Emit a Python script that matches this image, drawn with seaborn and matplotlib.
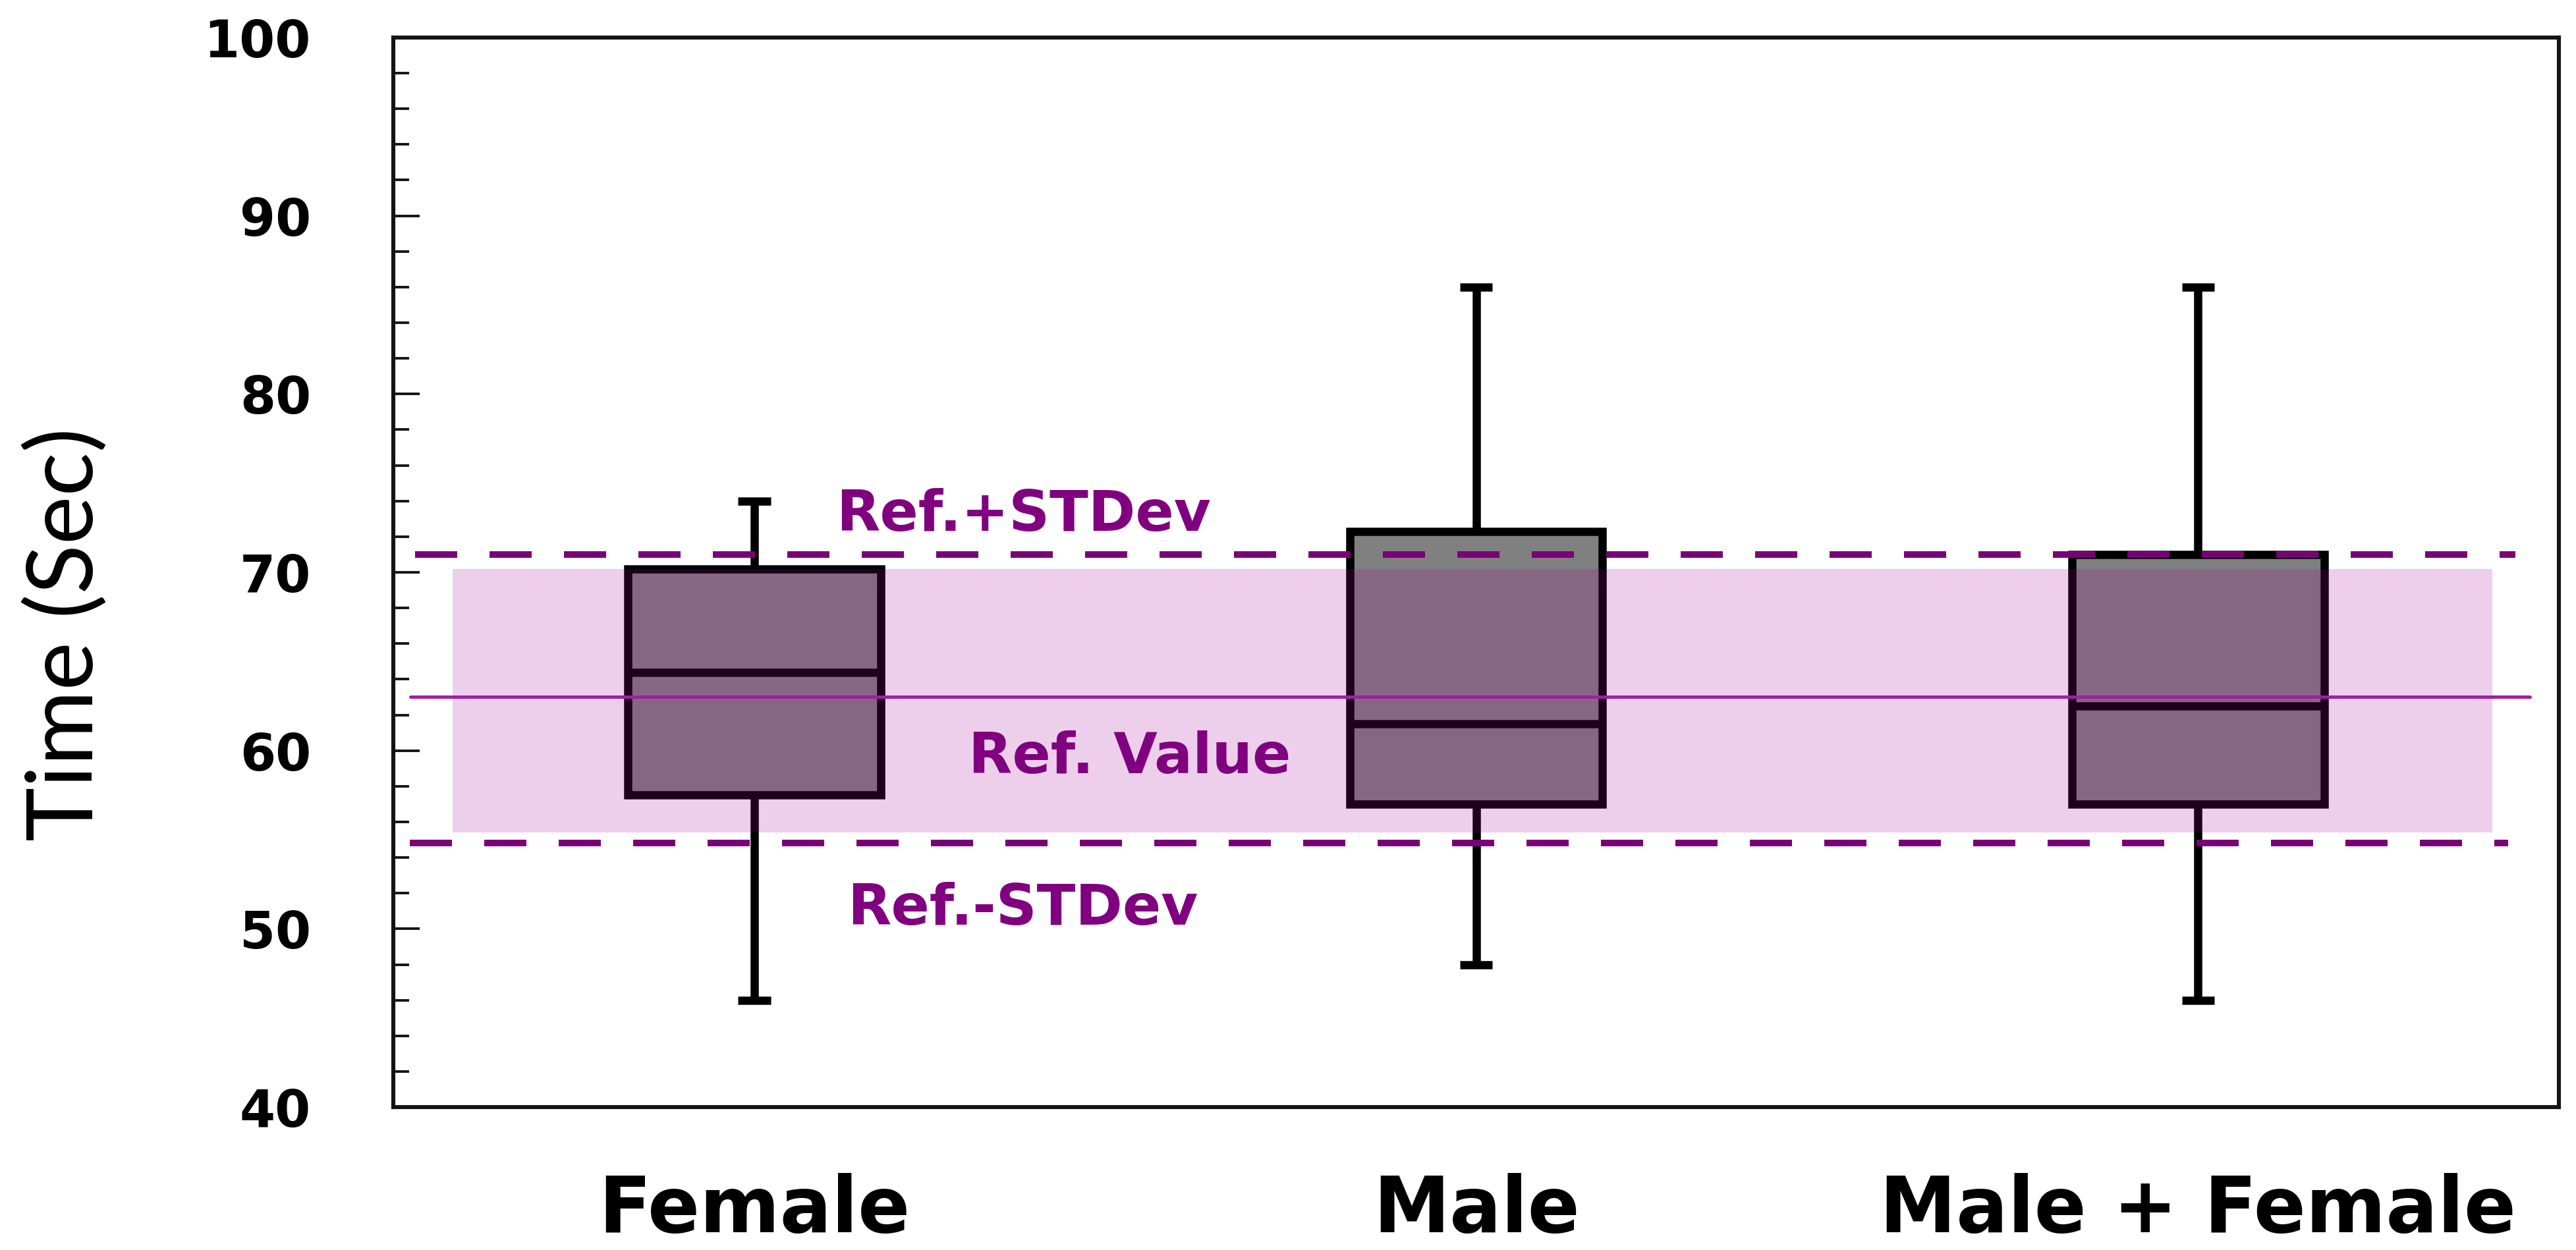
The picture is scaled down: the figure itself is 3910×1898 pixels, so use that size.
import numpy as np
import pandas as pd
import matplotlib
matplotlib.use("Agg")
import matplotlib.pyplot as plt
from matplotlib.ticker import MultipleLocator
import seaborn as sns

# ---- data ----
groups = ["Female", "Male", "Male + Female"]
whisker_low = [46.0, 48.0, 46.0]
q1 = [57.5, 57.0, 57.0]
median = [64.4, 61.5, 62.5]
q3 = [70.2, 72.3, 71.0]
whisker_high = [74.0, 86.0, 86.0]

ref_value = 63.0
ref_plus_sd = 71.0
ref_minus_sd = 54.8
band_low = 55.4
band_high = 70.2

ref_labels = ["Ref.+STDev", "Ref. Value", "Ref.-STDev"]
ref_label_y = [73.2, 59.6, 51.1]
ref_label_x = [0.373, 0.52, 0.372]

yticks = [40, 50, 60, 70, 80, 90, 100]
ylabel = "Time (Sec)"

# five-number summary per group -> long table for seaborn
rows = []
for g, a, b, c, d, e in zip(groups, whisker_low, q1, median, q3, whisker_high):
    for v in (a, b, c, d, e):
        rows.append({"group": g, "time": v})
df = pd.DataFrame(rows)

sns.set_style("white")
plt.rcParams["font.family"] = ["DejaVu Sans"]
plt.rcParams["text.color"] = "black"
plt.rcParams["axes.labelcolor"] = "black"
plt.rcParams["xtick.color"] = "black"
plt.rcParams["ytick.color"] = "black"

fig = plt.figure(figsize=(19.55, 9.49), dpi=200)
ax = fig.add_axes([0.1527, 0.1143, 0.8407, 0.8557])

box_w = 0.35
sns.boxplot(data=df, x="group", y="time", order=groups, color="#808080",
            saturation=1, width=box_w, whis=np.inf, linecolor="black",
            linewidth=4.5, ax=ax)

# narrow caps
for ln in ax.lines:
    x = np.asarray(ln.get_xdata(), float)
    y = np.asarray(ln.get_ydata(), float)
    if len(x) == 2 and y[0] == y[1] and abs(x[1] - x[0]) < 0.9 * box_w:
        c = x.mean()
        ln.set_xdata([c - 0.0225, c + 0.0225])
        ln.set_solid_capstyle("butt")

# reference band, line and +/- SD dashed lines
ax.fill_between([-0.418, 2.408], band_low, band_high,
                color=(160 / 255, 0, 149 / 255), alpha=0.19, lw=0, zorder=3)
ax.plot([-0.476, 2.46], [ref_value, ref_value], color="#A020A0", lw=1.8, zorder=4)
ax.plot([-0.47, 2.44], [ref_plus_sd, ref_plus_sd], color="#7A0078", lw=3.6,
        ls=(0, (6.4, 4.9)), dash_capstyle="butt", zorder=4)
ax.plot([-0.477, 2.43], [ref_minus_sd, ref_minus_sd], color="#7A0078", lw=3.6,
        ls=(0, (6.4, 4.9)), dash_capstyle="butt", zorder=4)

for t, xx, yy in zip(ref_labels, ref_label_x, ref_label_y):
    ax.text(xx, yy, t, ha="center", va="center", fontsize=31,
            fontweight="bold", color="#800080", zorder=5)

ax.set_xlim(-0.5, 2.5)
ax.set_ylim(40, 100)
ax.set_yticks(yticks)
ax.set_yticklabels([str(v) for v in yticks], fontweight="bold", color="black")
ax.yaxis.set_minor_locator(MultipleLocator(2))
ax.tick_params(axis="y", which="major", direction="in", length=14.4, width=1.4,
               pad=45, labelsize=28, color="#141414", labelcolor="black", left=True)
ax.tick_params(axis="y", which="minor", direction="in", length=8.6, width=1.4,
               color="#141414", left=True)
ax.tick_params(axis="x", length=0, pad=36, labelsize=42, labelcolor="black")
for lbl in ax.get_xticklabels():
    lbl.set_fontweight("bold")

ax.set_xlabel("")
ax.set_ylabel(ylabel, fontsize=50, family=["Lato", "DejaVu Sans"], va="center",
              color="black")
ax.yaxis.set_label_coords(-0.151, 0.442)

for s in ax.spines.values():
    s.set_visible(True)
    s.set_linewidth(2.2)
    s.set_color("#141414")

fig.savefig("out.png", dpi=200, facecolor="white")
